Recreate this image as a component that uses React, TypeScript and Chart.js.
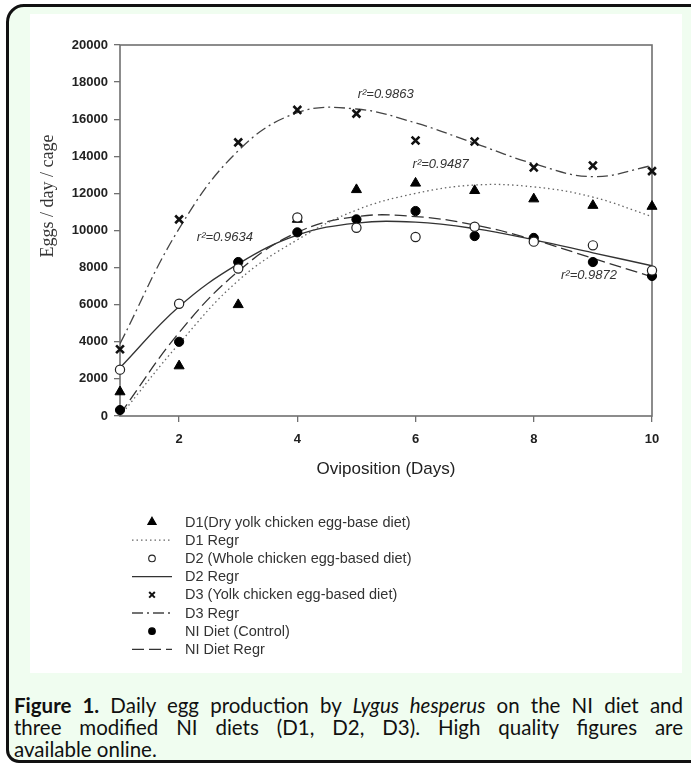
import React, { useEffect, useRef } from 'react';
import { Chart, registerables } from 'chart.js';

Chart.register(...registerables);

// ---- data ----
const days = [1, 2, 3, 4, 5, 6, 7, 8, 9, 10];
const d1Eggs = [1300, 2700, 6000, 10600, 12200, 12550, 12150, 11700, 11350, 11300];
const d2Eggs = [2500, 6050, 7950, 10700, 10150, 9650, 10200, 9400, 9200, 7850];
const d3Eggs = [3600, 10600, 14750, 16500, 16300, 14850, 14800, 13400, 13500, 13200];
const niEggs = [320, 4000, 8300, 9900, 10600, 11050, 9700, 9600, 8300, 7550];

const d1Fit = [0, 3900, 7300, 9500, 11100, 12000, 12450, 12350, 11800, 10750];
const d2Fit = [2600, 5900, 8200, 9750, 10400, 10450, 10100, 9500, 8800, 8100];
const d3Fit = [3900, 10100, 14300, 16350, 16550, 15800, 14700, 13600, 12900, 13500];
const niFit = [100, 4500, 7800, 9900, 10750, 10750, 10300, 9500, 8500, 7500];

const xTicks = [2, 4, 6, 8, 10];
const yTicks = [0, 2000, 4000, 6000, 8000, 10000, 12000, 14000, 16000, 18000, 20000];

const seriesLabels = [
  'D1(Dry yolk chicken egg-base diet)',
  'D1 Regr',
  'D2 (Whole chicken egg-based diet)',
  'D2 Regr',
  'D3 (Yolk chicken egg-based diet)',
  'D3 Regr',
  'NI Diet (Control)',
  'NI Diet Regr',
];

const rSquaredTexts = ['r²=0.9863', 'r²=0.9487', 'r²=0.9634', 'r²=0.9872'];
const rSquaredX = [5.02, 5.95, 2.3, 8.46];
const rSquaredY = [17350, 13570, 9620, 7570];

const xTitle = 'Oviposition (Days)';
const yTitle = 'Eggs / day / cage';

const SANS = '"Liberation Sans", Arial, sans-serif';

function pts(ys: number[]) {
  return days.map((d, i) => ({ x: d, y: ys[i] }));
}

function drawMarker(ctx: CanvasRenderingContext2D, style: string, x: number, y: number, r: number, fill: string, stroke: string, lw: number) {
  ctx.save();
  ctx.lineWidth = lw;
  ctx.strokeStyle = stroke;
  ctx.fillStyle = fill;
  ctx.beginPath();
  if (style === 'triangle') {
    let a = 0;
    ctx.moveTo(x + Math.sin(a) * r, y - Math.cos(a) * r);
    a += (2 * Math.PI) / 3;
    ctx.lineTo(x + Math.sin(a) * r, y - Math.cos(a) * r);
    a += (2 * Math.PI) / 3;
    ctx.lineTo(x + Math.sin(a) * r, y - Math.cos(a) * r);
    ctx.closePath();
    ctx.fill();
    ctx.stroke();
  } else if (style === 'crossRot') {
    const d = r * Math.SQRT1_2;
    ctx.moveTo(x - d, y - d);
    ctx.lineTo(x + d, y + d);
    ctx.moveTo(x - d, y + d);
    ctx.lineTo(x + d, y - d);
    ctx.stroke();
  } else {
    ctx.arc(x, y, r, 0, Math.PI * 2);
    ctx.fill();
    ctx.stroke();
  }
  ctx.restore();
}

const figurePlugin = {
  id: 'figureExtras',
  beforeDatasetsDraw(chart: any) {
    const { ctx, chartArea } = chart;
    ctx.save();
    ctx.strokeStyle = '#707070';
    ctx.lineWidth = 1.6;
    ctx.strokeRect(chartArea.left, chartArea.top, chartArea.right - chartArea.left, chartArea.bottom - chartArea.top);
    ctx.restore();
  },
  afterDraw(chart: any) {
    const { ctx, scales } = chart;
    // y axis title (offset above centre as in the figure)
    ctx.save();
    ctx.translate(18, 182);
    ctx.rotate(-Math.PI / 2);
    ctx.font = '18px "Liberation Serif", "Times New Roman", serif';
    ctx.fillStyle = '#333';
    ctx.textAlign = 'center';
    ctx.textBaseline = 'middle';
    ctx.fillText(yTitle, 0, 0);
    ctx.restore();

    // r² annotations
    ctx.save();
    ctx.font = 'italic 13px ' + SANS;
    ctx.fillStyle = '#333';
    ctx.textAlign = 'left';
    ctx.textBaseline = 'middle';
    rSquaredTexts.forEach((t, i) => {
      ctx.fillText(t, scales.x.getPixelForValue(rSquaredX[i]), scales.y.getPixelForValue(rSquaredY[i]));
    });
    ctx.restore();

    // legend
    const top = 508;
    const step = 18.2;
    ctx.save();
    ctx.font = '14.5px ' + SANS;
    ctx.textAlign = 'left';
    ctx.textBaseline = 'middle';
    chart.data.datasets.forEach((ds: any, i: number) => {
      const y = top + i * step;
      if (ds.showLine) {
        ctx.save();
        ctx.strokeStyle = ds.borderColor;
        ctx.lineWidth = ds.borderWidth;
        ctx.setLineDash(ds.borderDash || []);
        ctx.beginPath();
        ctx.moveTo(102, y);
        ctx.lineTo(142, y);
        ctx.stroke();
        ctx.restore();
      } else {
        const r = ds.pointStyle === 'triangle' ? 4.8 : ds.pointStyle === 'crossRot' ? 4 : 3.3;
        drawMarker(ctx, ds.pointStyle, 122, y, r, ds.backgroundColor, ds.borderColor, ds.pointStyle === 'crossRot' ? 2 : 1.1);
      }
      ctx.fillStyle = '#333';
      ctx.fillText(ds.label, 155, y + 0.5);
    });
    ctx.restore();
  },
};

function ChartCanvas() {
  const ref = useRef<HTMLCanvasElement | null>(null);
  useEffect(() => {
    if (!ref.current) return;
    const lineDs = (label: string, ys: number[], dash: number[], color: string) => ({
      label,
      data: pts(ys),
      showLine: true,
      borderColor: color,
      backgroundColor: color,
      borderWidth: 1.3,
      borderDash: dash,
      pointRadius: 0,
      tension: 0.4,
      order: 2,
    });
    const ptDs = (label: string, ys: number[], style: string, r: number, fill: string, stroke: string, bw: number, order: number) => ({
      label,
      data: pts(ys),
      showLine: false,
      pointStyle: style,
      pointRadius: r,
      pointBackgroundColor: fill,
      pointBorderColor: stroke,
      pointBorderWidth: bw,
      backgroundColor: fill,
      borderColor: stroke,
      clip: false,
      order,
    });
    const chart = new Chart(ref.current, {
      type: 'scatter',
      data: {
        datasets: [
          ptDs(seriesLabels[0], d1Eggs, 'triangle', 5.8, '#000', '#000', 1, 1),
          lineDs(seriesLabels[1], d1Fit, [1.5, 3], '#666'),
          ptDs(seriesLabels[2], d2Eggs, 'circle', 4.6, '#fff', '#222', 1.2, 0),
          lineDs(seriesLabels[3], d2Fit, [], '#333'),
          ptDs(seriesLabels[4], d3Eggs, 'crossRot', 5.5, '#111', '#111', 2.6, 1),
          lineDs(seriesLabels[5], d3Fit, [11, 4, 2, 4], '#444'),
          ptDs(seriesLabels[6], niEggs, 'circle', 4.6, '#000', '#000', 1, 1),
          lineDs(seriesLabels[7], niFit, [12, 5], '#333'),
        ] as any,
      },
      options: {
        animation: false,
        responsive: false,
        maintainAspectRatio: false,
        events: [],
        layout: { padding: { left: 0, top: 31, right: 30, bottom: 193 } },
        plugins: { legend: { display: false }, tooltip: { enabled: false } },
        scales: {
          x: {
            type: 'linear',
            min: 1,
            max: 10,
            afterBuildTicks: (scale: any) => {
              scale.ticks = xTicks.map((v) => ({ value: v }));
            },
            afterFit: (scale: any) => {
              scale.height = 64;
            },
            border: { display: false },
            grid: { display: true, drawOnChartArea: false, drawTicks: true, tickLength: 6, color: '#707070', lineWidth: 1.3 },
            ticks: {
              padding: 10,
              color: '#222',
              font: { family: SANS, size: 13, weight: 'bold' },
              maxRotation: 0,
              callback: (v: any) => String(v),
            },
            title: {
              display: true,
              text: xTitle,
              color: '#222',
              font: { family: SANS, size: 17 },
              padding: { top: 0, bottom: 0 },
            },
          },
          y: {
            type: 'linear',
            min: 0,
            max: 20000,
            afterBuildTicks: (scale: any) => {
              scale.ticks = yTicks.map((v) => ({ value: v }));
            },
            afterFit: (scale: any) => {
              scale.width = 90;
            },
            border: { display: false },
            grid: { display: true, drawOnChartArea: false, drawTicks: true, tickLength: 6, color: '#707070', lineWidth: 1.3 },
            ticks: {
              padding: 6,
              color: '#222',
              font: { family: SANS, size: 13, weight: 'bold' },
              callback: (v: any) => String(v),
            },
          },
        },
      } as any,
      plugins: [figurePlugin],
    });
    return () => chart.destroy();
  }, []);
  return <canvas ref={ref} width={652} height={659} style={{ position: 'absolute', left: 30, top: 14, width: 652, height: 659 }} />;
}

export default function App() {
  const capFont = 'Lato, "Open Sans", sans-serif';
  const lineStyle: React.CSSProperties = { textAlign: 'justify', textAlignLast: 'justify' as any, height: 22, whiteSpace: 'nowrap' };
  return (
    <div style={{ position: 'absolute', left: 0, top: 0, width: 691, height: 766, overflow: 'hidden', background: '#fff' }}>
      <div
        style={{
          position: 'absolute',
          left: 6,
          top: 4,
          width: 720,
          height: 753,
          border: '3px solid #111',
          borderRadius: '18px 0 0 13px',
          background: '#f0fdf0',
        }}
      />
      <div style={{ position: 'absolute', left: 30, top: 14, width: 652, height: 659, background: '#fff' }} />
      <ChartCanvas />
      <div style={{ position: 'absolute', left: 14, top: 694, width: 669, fontFamily: capFont, fontSize: 20.5, lineHeight: '22px', color: '#111' }}>
        <div style={lineStyle}>
          <b>Figure 1.</b> Daily egg production by <i>Lygus hesperus</i> on the NI diet and
        </div>
        <div style={lineStyle}>three modified NI diets (D1, D2, D3). High quality figures are</div>
        <div style={{ height: 22 }}>available online.</div>
      </div>
    </div>
  );
}
